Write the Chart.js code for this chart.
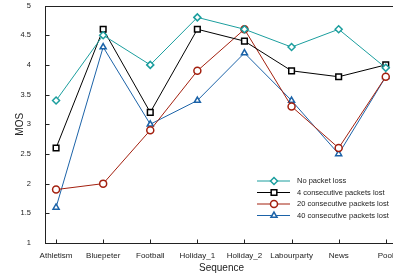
<!DOCTYPE html>
<html>
<head>
<meta charset="utf-8">
<script src="https://cdn.jsdelivr.net/npm/chart.js@4"></script>
<style>
  body { margin: 0; overflow: hidden; background: #fff; }
  #wrap { width: 393px; height: 275px; overflow: hidden; }
</style>
</head>
<body>
<div id="wrap"><canvas id="mosChart" width="410" height="275"></canvas></div>
<script>
const sequences = ['Athletism', 'Bluepeter', 'Football', 'Holiday_1', 'Holiday_2', 'Labourparty', 'News', 'Pool'];
const noLoss = [3.4, 4.5, 4.0, 4.8, 4.6, 4.3, 4.6, 3.95];
const loss4 = [2.6, 4.6, 3.2, 4.6, 4.4, 3.9, 3.8, 4.0];
const loss20 = [1.9, 2.0, 2.9, 3.9, 4.6, 3.3, 2.6, 3.8];
const loss40 = [1.6, 4.3, 3.0, 3.4, 4.2, 3.4, 2.5, 3.8];
const yTicks = [1, 1.5, 2, 2.5, 3, 3.5, 4, 4.5, 5];

const FONT = 'Liberation Sans, Arial, Helvetica, sans-serif';

function toPoints(values) {
    return values.map((v, i) => ({ x: i, y: v }));
}

function makeSet(label, values, color, style) {
    return {
        label: label,
        data: toPoints(values),
        borderColor: color,
        backgroundColor: '#fff',
        borderWidth: 1,
        pointStyle: style,
        pointRadius: style === 'rect' ? 4 : 3.5,
        pointBorderWidth: 1.5,
        pointBorderColor: color,
        pointBackgroundColor: '#fff',
        tension: 0
    };
}

// axes box, inward ticks and legend
const boxPlugin = {
    id: 'boxPlugin',
    afterDraw(chart) {
        const ctx = chart.ctx;
        const a = chart.chartArea;
        const xs = chart.scales.x;
        const ys = chart.scales.y;
        const l = Math.round(a.left) + 0.5, t = Math.round(a.top) + 0.5;
        const r = Math.round(a.right) + 0.5, b = Math.round(a.bottom) + 0.5;
        ctx.save();
        ctx.strokeStyle = '#222';
        ctx.lineWidth = 1;
        ctx.strokeRect(l, t, r - l, b - t);
        ctx.beginPath();
        sequences.forEach((s, i) => {
            const px = Math.round(xs.getPixelForValue(i)) + 0.5;
            ctx.moveTo(px, b);
            ctx.lineTo(px, b - 4);
        });
        yTicks.forEach(v => {
            const py = Math.round(ys.getPixelForValue(v)) + 0.5;
            ctx.moveTo(l, py);
            ctx.lineTo(l + 4, py);
        });
        ctx.stroke();

        // legend
        const rows = [181, 192.5, 204, 215.5];
        ctx.font = '7.5px ' + FONT;
        ctx.textBaseline = 'middle';
        chart.data.datasets.forEach((ds, i) => {
            const y = rows[i];
            ctx.strokeStyle = ds.borderColor;
            ctx.lineWidth = 1;
            ctx.beginPath();
            ctx.moveTo(257, y);
            ctx.lineTo(290, y);
            ctx.stroke();
            ctx.lineWidth = 1.5;
            ctx.fillStyle = '#fff';
            Chart.helpers.drawPoint(ctx, {
                pointStyle: ds.pointStyle,
                radius: ds.pointRadius,
                rotation: 0,
                borderWidth: 1.5
            }, 274, y);
            ctx.fillStyle = '#222';
            ctx.fillText(ds.label, 297, y);
        });
        ctx.restore();
    }
};

window.onload = function () {
    const ctx = document.getElementById('mosChart').getContext('2d');
    new Chart(ctx, {
        type: 'line',
        data: {
            datasets: [
                makeSet('No packet loss', noLoss, '#1b9e9e', 'rectRot'),
                makeSet('4 consecutive packets lost', loss4, '#000000', 'rect'),
                makeSet('20 consecutive packets lost', loss20, '#a3200f', 'circle'),
                makeSet('40 consecutive packets lost', loss40, '#1c63a8', 'triangle')
            ]
        },
        options: {
            responsive: false,
            animation: false,
            layout: { padding: { top: 4, right: 12, left: 0, bottom: 0 } },
            plugins: {
                legend: { display: false },
                tooltip: { enabled: false }
            },
            scales: {
                x: {
                    type: 'linear',
                    min: -0.235,
                    max: 7.26,
                    grid: { display: false },
                    border: { display: false },
                    afterBuildTicks: scale => {
                        scale.ticks = sequences.map((s, i) => ({ value: i }));
                    },
                    afterFit: scale => {
                        scale.height = 32;
                        scale.paddingLeft = 0;
                        scale.paddingRight = 0;
                    },
                    ticks: {
                        autoSkip: false,
                        maxRotation: 0,
                        padding: 0,
                        color: '#222',
                        font: { family: FONT, size: 8 },
                        callback: v => sequences[v]
                    },
                    title: {
                        display: true,
                        text: 'Sequence',
                        color: '#222',
                        padding: { top: 0, bottom: 1 },
                        font: { family: FONT, size: 10 }
                    }
                },
                y: {
                    min: 1,
                    max: 5,
                    grid: { display: false },
                    border: { display: false },
                    afterBuildTicks: scale => {
                        scale.ticks = yTicks.map(v => ({ value: v }));
                    },
                    afterFit: scale => {
                        scale.width = 45;
                        scale.paddingTop = 0;
                        scale.paddingBottom = 0;
                    },
                    ticks: {
                        padding: 6,
                        color: '#222',
                        font: { family: FONT, size: 7.5 },
                        callback: v => String(v)
                    },
                    title: {
                        display: true,
                        text: 'MOS',
                        color: '#222',
                        padding: { top: 14, bottom: 0 },
                        font: { family: FONT, size: 10 }
                    }
                }
            }
        },
        plugins: [boxPlugin]
    });
};
</script>
</body>
</html>
